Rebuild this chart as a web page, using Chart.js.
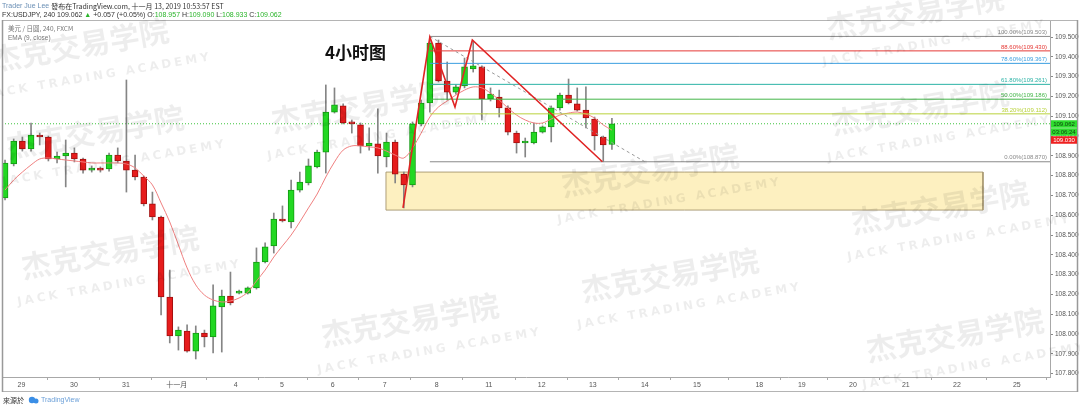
<!DOCTYPE html>
<html>
<head>
<meta charset="utf-8">
<script src="https://cdn.jsdelivr.net/npm/chart.js@4.4.0/dist/chart.umd.min.js"></script>
<style>
html, body { margin: 0; padding: 0; background: #fff; }
#wrap { width: 1080px; height: 408px; }
</style>
</head>
<body>
<div id="wrap"><canvas id="myChart" width="1080" height="408"></canvas></div>
<script>
// USD/JPY 4h candles (index 0 = first visible bar)
var candleOpen = [108.687, 108.859, 108.975, 108.935, 109.005, 108.995, 108.884, 108.899, 108.914, 108.884,
    108.828, 108.834, 108.834, 108.904, 108.874, 108.828, 108.793, 108.657, 108.591, 108.187,
    107.990, 108.015, 107.914, 108.005, 107.985, 108.137, 108.192, 108.207, 108.207, 108.233,
    108.364, 108.445, 108.581, 108.566, 108.727, 108.763, 108.844, 108.919, 109.121, 109.152,
    109.066, 109.056, 108.950, 108.960, 108.894, 108.970, 108.808, 108.753, 109.061, 109.167,
    109.470, 109.278, 109.222, 109.253, 109.339, 109.349, 109.187, 109.197, 109.142, 109.015,
    108.965, 108.965, 109.020, 109.046, 109.142, 109.207, 109.162, 109.131, 109.086, 108.995,
    108.957];
var candleHigh = [108.879, 108.985, 108.995, 109.066, 109.015, 109.000, 108.919, 108.980, 108.940, 108.889,
    108.849, 108.844, 108.914, 108.940, 109.283, 108.904, 108.798, 108.717, 108.596, 108.323,
    108.036, 108.046, 108.041, 108.020, 108.248, 108.222, 108.313, 108.222, 108.238, 108.435,
    108.460, 108.611, 108.647, 108.778, 108.818, 108.884, 108.929, 109.258, 109.243, 109.162,
    109.081, 109.066, 109.041, 109.137, 109.015, 108.980, 108.818, 109.071, 109.182, 109.503,
    109.485, 109.374, 109.258, 109.394, 109.480, 109.354, 109.243, 109.232, 109.152, 109.025,
    108.990, 109.066, 109.051, 109.152, 109.217, 109.288, 109.243, 109.248, 109.096, 109.000,
    109.090];
var candleLow = [108.677, 108.849, 108.924, 108.924, 108.955, 108.874, 108.864, 108.743, 108.869, 108.813,
    108.818, 108.818, 108.823, 108.864, 108.717, 108.778, 108.647, 108.576, 108.096, 107.955,
    107.919, 107.909, 107.874, 107.935, 107.904, 107.909, 108.147, 108.202, 108.202, 108.227,
    108.359, 108.409, 108.566, 108.536, 108.717, 108.753, 108.839, 108.813, 109.116, 109.061,
    109.015, 108.914, 108.929, 108.813, 108.844, 108.763, 108.637, 108.743, 109.051, 109.121,
    109.273, 109.182, 109.212, 109.243, 109.323, 109.081, 109.177, 109.096, 109.005, 108.914,
    108.894, 108.960, 109.015, 108.970, 109.131, 109.162, 109.126, 109.041, 108.929, 108.870,
    108.933];
var candleClose = [108.864, 108.975, 108.935, 109.005, 108.995, 108.884, 108.899, 108.914, 108.884, 108.828,
    108.834, 108.828, 108.904, 108.874, 108.828, 108.793, 108.657, 108.591, 108.187, 107.990,
    108.020, 107.914, 108.005, 107.985, 108.142, 108.192, 108.157, 108.217, 108.233, 108.364,
    108.440, 108.581, 108.571, 108.727, 108.768, 108.849, 108.919, 109.121, 109.157, 109.066,
    109.061, 108.950, 108.965, 108.899, 108.970, 108.808, 108.753, 109.061, 109.167, 109.470,
    109.278, 109.222, 109.248, 109.349, 109.354, 109.187, 109.212, 109.142, 109.020, 108.965,
    108.970, 109.020, 109.046, 109.142, 109.207, 109.167, 109.131, 109.091, 109.000, 108.955,
    109.062];
// EMA(9, close) as drawn on the chart
var maValues = [108.727, 108.778, 108.818, 108.854, 108.884, 108.889, 108.884, 108.879, 108.874, 108.869,
    108.864, 108.864, 108.864, 108.864, 108.859, 108.839, 108.798, 108.753, 108.662, 108.566,
    108.450, 108.334, 108.248, 108.197, 108.172, 108.162, 108.167, 108.182, 108.212, 108.268,
    108.323, 108.389, 108.445, 108.500, 108.566, 108.637, 108.707, 108.793, 108.869, 108.929,
    108.950, 108.950, 108.945, 108.940, 108.924, 108.904, 108.889, 108.940, 109.015, 109.096,
    109.147, 109.177, 109.207, 109.232, 109.248, 109.243, 109.217, 109.182, 109.142, 109.106,
    109.081, 109.066, 109.066, 109.086, 109.106, 109.116, 109.121, 109.111, 109.091, 109.056,
    109.030];

var dayTickIndex = [1.9, 7.95, 13.95, 19.8, 26.6, 31.95, 37.8, 43.8, 49.8, 55.8,
    61.9, 67.8, 73.8, 79.8, 87.0, 91.9, 97.8, 103.9, 109.8, 116.7];
var dayTickLabels = ['29', '30', '31', '十一月', '4', '5', '6', '7', '8', '11',
    '12', '13', '14', '15', '18', '19', '20', '21', '22', '25'];
var priceTicks = [107.8, 107.9, 108.0, 108.1, 108.2, 108.3, 108.4, 108.5, 108.6,
    108.7, 108.8, 108.9, 109.0, 109.1, 109.2, 109.3, 109.4, 109.5];

// fibonacci retracement drawn from the 109.503 top to the 108.870 low
var fibLabels = ['100.00%', '88.60%', '78.60%', '61.80%', '50.00%', '38.20%', '0.00%'];
var fibPrices = [109.503, 109.430, 109.367, 109.261, 109.186, 109.112, 108.870];
var fibStartIndex = 49;
var fibTrendIndex = [49, 73.8];
var fibTrendPrice = [109.503, 108.870];

// hand drawn red zigzag
var zigIndex = [45.9, 49.0, 51.9, 53.9, 68.9];
var zigPrice = [108.637, 109.500, 109.146, 109.485, 108.870];

// yellow demand zone
var zoneIndex = [43.94, 112.8];
var zonePrice = [108.626, 108.818];

var lastPrice = 109.062;
var maLast = 109.030;

var xMin = -0.35, xMax = 120.53;
var fibColors = ['#8a8a8a', '#e53935', '#3a9ee0', '#2bb3a6', '#43b649', '#b9d23a', '#8a8a8a'];
var upColor = '#22d822', upBorder = '#139a13';
var downColor = '#e61c1c', downBorder = '#a30f0f';

function pts(xs, ys) {
    var out = [];
    for (var i = 0; i < xs.length; i++) out.push({x: xs[i], y: ys[i]});
    return out;
}

var bodies = [], wicks = [], bodyFill = [], bodyLine = [], maPts = [];
for (var i = 0; i < candleOpen.length; i++) {
    var up = candleClose[i] >= candleOpen[i];
    bodies.push({x: i, y: [candleOpen[i], candleClose[i]]});
    wicks.push({x: i, y: [candleLow[i], candleHigh[i]]});
    bodyFill.push(up ? upColor : downColor);
    bodyLine.push(up ? upBorder : downBorder);
    maPts.push({x: i, y: maValues[i]});
}

var datasets = [];
datasets.push({
    type: 'line', data: pts(zoneIndex, [zonePrice[1], zonePrice[1]]),
    fill: {value: zonePrice[0]}, backgroundColor: 'rgba(252, 228, 140, 0.55)',
    borderWidth: 0, pointRadius: 0, order: 20
});
datasets.push({
    type: 'line',
    data: pts([zoneIndex[0], zoneIndex[1], zoneIndex[1], zoneIndex[0], zoneIndex[0]],
        [zonePrice[1], zonePrice[1], zonePrice[0], zonePrice[0], zonePrice[1]]),
    borderColor: 'rgba(165, 150, 110, 0.9)', borderWidth: 1, pointRadius: 0, fill: false, order: 19
});
datasets.push({
    type: 'line', data: pts([xMin, xMax], [lastPrice, lastPrice]),
    borderColor: '#3fc43f', borderWidth: 1, borderDash: [1, 2], pointRadius: 0, order: 15
});
datasets.push({
    type: 'bar', data: wicks, backgroundColor: '#858585', barThickness: 1,
    grouped: false, borderWidth: 0, order: 12
});
datasets.push({
    type: 'bar', data: bodies, backgroundColor: bodyFill, borderColor: bodyLine,
    borderWidth: 1, borderSkipped: false, barThickness: 6, minBarLength: 2,
    grouped: false, order: 11
});
datasets.push({
    type: 'line', data: maPts, borderColor: '#f08080', borderWidth: 1,
    pointRadius: 0, tension: 0.35, order: 8
});
for (var f = 0; f < fibPrices.length; f++) {
    datasets.push({
        type: 'line', data: pts([fibStartIndex, xMax], [fibPrices[f], fibPrices[f]]),
        borderColor: fibColors[f], borderWidth: 1, pointRadius: 0, order: 6
    });
}
datasets.push({
    type: 'line', data: pts(fibTrendIndex, fibTrendPrice),
    borderColor: '#9a9a9a', borderWidth: 1, borderDash: [3, 3], pointRadius: 0, order: 5
});
datasets.push({
    type: 'line', data: pts(zigIndex, zigPrice),
    borderColor: '#e02424', borderWidth: 1.6, pointRadius: 0, order: 4
});

var wmSpots = [[80, 45], [95, 132], [360, 106], [915, 12], [920, 108], [650, 170],
    [110, 252], [940, 207], [410, 320], [670, 275], [955, 335]];

var decor = {
    id: 'decor',
    beforeDraw: function(chart) {
        var c = chart.ctx;
        c.save();
        c.fillStyle = '#ffffff';
        c.fillRect(0, 0, chart.width, chart.height);
        c.restore();
    },
    afterDraw: function(chart) {
        var c = chart.ctx, xs = chart.scales.x, ys = chart.scales.y;
        var area = chart.chartArea;
        c.save();

        // panel frame
        c.strokeStyle = '#b4b4b4';
        c.lineWidth = 1;
        c.strokeRect(2.5, 20.5, 1075, 371);
        c.strokeStyle = '#999';
        c.lineWidth = 1.5;
        c.beginPath(); c.moveTo(2.5, 20); c.lineTo(2.5, 392); c.stroke();
        c.beginPath(); c.moveTo(1077.5, 20); c.lineTo(1077.5, 392); c.stroke();

        // fib labels
        c.font = '6px "Liberation Sans", Arial, sans-serif';
        c.textAlign = 'right';
        c.textBaseline = 'bottom';
        for (var f = 0; f < fibPrices.length; f++) {
            c.fillStyle = fibColors[f];
            c.fillText(fibLabels[f] + '(' + fibPrices[f].toFixed(3) + ')', area.right - 3,
                ys.getPixelForValue(fibPrices[f]) - 1);
        }

        // price boxes on the axis
        var py = ys.getPixelForValue(lastPrice);
        var boxes = [['#2edc2e', '#0d3d0d', lastPrice.toFixed(3)], ['#2edc2e', '#0d3d0d', '03:06:24'],
            ['#ee2020', '#ffffff', maLast.toFixed(3)]];
        c.font = '6px "Liberation Sans", Arial, sans-serif';
        c.textAlign = 'center';
        c.textBaseline = 'middle';
        for (var b = 0; b < boxes.length; b++) {
            var cy = py + b * 8;
            c.fillStyle = boxes[b][0];
            c.fillRect(area.right + 1, cy - 3.5, 26, 7.5);
            c.fillStyle = boxes[b][1];
            c.fillText(boxes[b][2], area.right + 14, cy + 0.5);
        }

        // header lines
        c.textAlign = 'left';
        c.textBaseline = 'middle';
        c.font = '7px "Liberation Sans", Arial, sans-serif';
        c.fillStyle = '#6a8fb5';
        c.fillText('Trader Jue Lee', 2, 6);
        var w = c.measureText('Trader Jue Lee ').width;
        c.fillStyle = '#333';
        c.font = '7px "Noto Sans CJK TC", "Liberation Sans", sans-serif';
        c.fillText('發布在TradingView.com, 十一月 13, 2019 10:53:57 EST', 2 + w, 6);

        var parts = [['FX:USDJPY, 240 109.062 ', '#333'], ['▲', '#2bb52b'], [' +0.057 (+0.05%) O:', '#333'],
            ['108.957', '#2bb52b'], [' H:', '#333'], ['109.090', '#2bb52b'], [' L:', '#333'],
            ['108.933', '#2bb52b'], [' C:', '#333'], ['109.062', '#2bb52b']];
        c.font = '7px "Liberation Sans", Arial, sans-serif';
        var tx = 2;
        for (var p = 0; p < parts.length; p++) {
            c.fillStyle = parts[p][1];
            c.fillText(parts[p][0], tx, 15);
            tx += c.measureText(parts[p][0]).width;
        }

        // legend inside the pane
        c.fillStyle = '#777';
        c.font = '6.5px "Noto Sans CJK TC", "Liberation Sans", sans-serif';
        c.fillText('美元 / 日圓, 240, FXCM', 8, 29);
        c.font = '6.5px "Liberation Sans", Arial, sans-serif';
        c.fillText('EMA (9, close)', 8, 38);

        // annotation
        c.fillStyle = '#111';
        c.font = 'bold 17px "Noto Sans CJK SC", sans-serif';
        c.fillText('4小时图', 325, 53);

        // footer
        c.fillStyle = '#333';
        c.font = '7px "Noto Sans CJK TC", sans-serif';
        c.fillText('來源於', 3, 400);
        c.fillStyle = '#3a8ee6';
        c.beginPath(); c.arc(32, 400, 3.2, 0, Math.PI * 2); c.fill();
        c.beginPath(); c.arc(36, 401, 2.5, 0, Math.PI * 2); c.fill();
        c.font = '7px "Liberation Sans", Arial, sans-serif';
        c.fillStyle = '#6a9fd8';
        c.fillText('TradingView', 41, 400);

        // watermarks
        c.textAlign = 'center';
        for (var k = 0; k < wmSpots.length; k++) {
            c.save();
            c.translate(wmSpots[k][0], wmSpots[k][1]);
            c.rotate(-0.17);
            c.fillStyle = 'rgba(0, 0, 0, 0.07)';
            c.font = 'bold 30px "Noto Sans CJK SC", sans-serif';
            c.fillText('杰克交易学院', 0, 0);
            c.font = 'bold 12px "DejaVu Sans", sans-serif';
            if (c.letterSpacing !== undefined) c.letterSpacing = '3px';
            c.fillText('JACK TRADING ACADEMY', 14, 34);
            c.restore();
        }
        c.restore();
    }
};

var ctx = document.getElementById('myChart').getContext('2d');
var myChart = new Chart(ctx, {
    type: 'bar',
    data: { datasets: datasets },
    options: {
        responsive: false,
        animation: false,
        devicePixelRatio: 1,
        layout: { padding: { left: 2, top: 20, right: 0, bottom: 0 } },
        plugins: { legend: { display: false }, tooltip: { enabled: false } },
        scales: {
            x: {
                type: 'linear', min: xMin, max: xMax, offset: false,
                grid: { drawOnChartArea: false, drawTicks: true, tickLength: 3, color: '#aaa' },
                border: { display: true, color: '#a8a8a8' },
                afterBuildTicks: function(scale) {
                    scale.ticks = dayTickIndex.map(function(v) { return {value: v}; });
                },
                afterFit: function(scale) { scale.height = 31; },
                ticks: {
                    autoSkip: false, maxRotation: 0, padding: 1, color: '#555',
                    font: { size: 7, family: '"Liberation Sans", "Noto Sans CJK SC", sans-serif' },
                    callback: function(value, index) { return dayTickLabels[index]; }
                }
            },
            y: {
                type: 'linear', position: 'right', min: 107.783, max: 109.586,
                grid: { drawOnChartArea: false, drawTicks: true, tickLength: 3, color: '#888' },
                border: { display: true, color: '#a8a8a8' },
                afterBuildTicks: function(scale) {
                    scale.ticks = priceTicks.map(function(v) { return {value: v}; });
                },
                afterFit: function(scale) { scale.width = 30; },
                ticks: {
                    padding: 2, color: '#555',
                    font: { size: 6.5, family: '"Liberation Sans", Arial, sans-serif' },
                    callback: function(value) { return value.toFixed(3); }
                }
            }
        }
    },
    plugins: [decor]
});
</script>
</body>
</html>
